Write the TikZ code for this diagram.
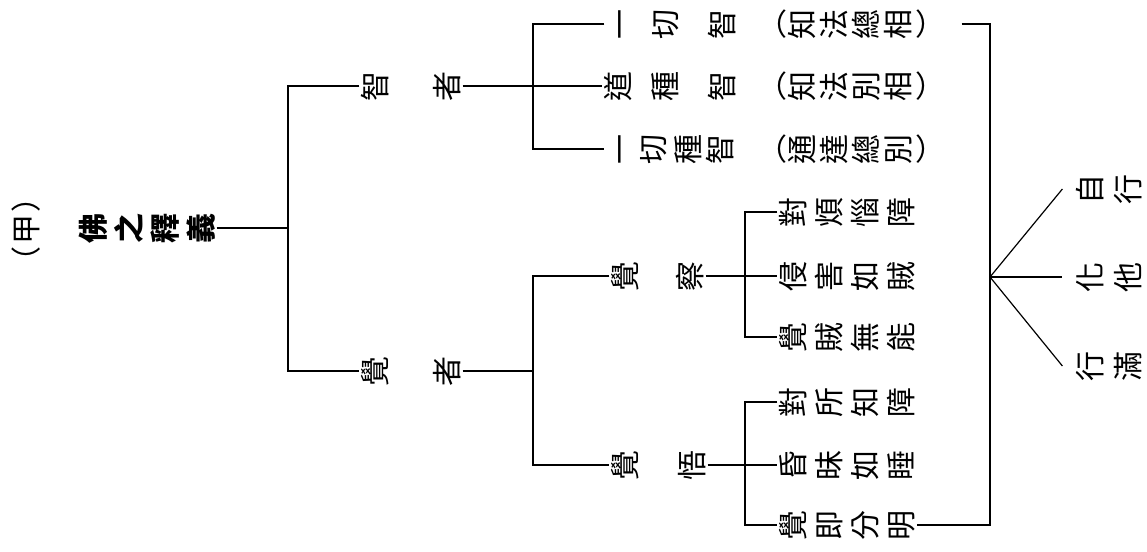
\documentclass[tikz,border=0pt]{standalone}
\usepackage{fontspec}
\setmainfont{Noto Sans CJK TC}
\usepackage{graphicx}
\usetikzlibrary{positioning}

\newcommand\cjksize{\fontsize{15pt}{15pt}\selectfont}
\newcommand\rc[1]{\rotatebox[origin=c]{90}{\makebox[1em]{\rule[-.12em]{0pt}{1em}#1}}}
\newcommand\uc[1]{\makebox[1em]{\rule[-.12em]{0pt}{1em}#1}}

\begin{document}
\begin{tikzpicture}[x=0.5pt,y=-0.5pt,line width=0.6pt,
  ch/.style={inner sep=0pt,font=\cjksize},
  chb/.style={ch,font=\cjksize\bfseries}]
\useasboundingbox (0,0) rectangle (1147,552);

\node [ch] (p1) at (26,197) {\rc{）}};
\node [ch] (p2) at (26,229) {\rc{甲}};
\node [ch] (p3) at (26,261) {\rc{（}};

\foreach \i / \w in {1/佛,2/之,3/釋,4/義}
  \node [chb] (fo\i) at ({57+36*\i},228) {\rc{\w}};

\node [ch] (z1) at (375,86) {\rc{智}};
\node [ch] (z2) at (447,86) {\rc{者}};
\node [ch] (j1) at (375,371) {\rc{覺}};
\node [ch] (j2) at (447,371) {\rc{者}};

\foreach \i / \x / \w in {1/620/一,2/665/切,3/722/智}
  \node [ch] (a\i) at (\x,24) {\rc{\w}};
\foreach \i / \x / \w in {1/618/道,2/665/種,3/722/智}
  \node [ch] (b\i) at (\x,86) {\rc{\w}};
\foreach \i / \x / \w in {1/620/一,2/653/切,3/688/種,4/720/智}
  \node [ch] (c\i) at (\x,149) {\rc{\w}};

\foreach \r / \y / \ka / \kb / \kc / \kd in {1/24/知/法/總/相,2/86/知/法/別/相,3/149/通/達/總/別} {
  \node [ch] (n\r0) at (772,\y) {\uc{（}};
  \node [ch] (n\r1) at (802,\y) {\rc{\ka}};
  \node [ch] (n\r2) at (834,\y) {\rc{\kb}};
  \node [ch] (n\r3) at (866,\y) {\rc{\kc}};
  \node [ch] (n\r4) at (898,\y) {\rc{\kd}};
  \node [ch] (n\r5) at (930,\y) {\uc{）}};
}

\node [ch] (ca1) at (625,276) {\rc{覺}};
\node [ch] (ca2) at (690,276) {\rc{察}};
\node [ch] (wu1) at (625,465) {\rc{覺}};
\node [ch] (wu2) at (692,465) {\rc{悟}};

\foreach \r / \y / \w in {d/212/{對,煩,惱,障},e/276/{侵,害,如,賊},f/337/{覺,賊,無,能},
                          g/402/{對,所,知,障},h/465/{昏,昧,如,睡},k/525/{覺,即,分,明}}
  \foreach [count=\i] \z in \w
    \node [ch] (\r\i) at ({757+36*\i},\y) {\rc{\z}};

\foreach \r / \y / \ka / \kb in {s/189/自/行,t/277/化/他,u/366/行/滿} {
  \node [ch] (\r1) at (1090,\y) {\rc{\ka}};
  \node [ch] (\r2) at (1128,\y) {\rc{\kb}};
}

\coordinate (m0) at (288,228);
\coordinate (m1) at (533,86);
\coordinate (m2) at (533,371);
\coordinate (m3) at (745,276);
\coordinate (m4) at (745,465);
\coordinate (fan) at (990,277);

\draw (fo4.east) -- (m0);
\draw (z1.west) -| (m0) |- (j1.west);

\draw (z2.east) -- (m1);
\draw (a1.west) -| (m1) |- (c1.west);
\draw (m1) -- (b1.west);

\draw (j2.east) -- (m2);
\draw (ca1.west) -| (m2) |- (wu1.west);

\draw (ca2.east) -- (m3);
\draw (d1.west) -| (m3) |- (f1.west);
\draw (m3) -- (e1.west);

\draw (wu2.east) -- (m4);
\draw (g1.west) -| (m4) |- (k1.west);
\draw (m4) -- (h1.west);

\draw ([xshift=8pt]n15.east) -| (fan) |- (k4.east);
\draw (fan) -- ([xshift=-6pt]s1.west);
\draw (fan) -- ([xshift=-6pt]t1.west);
\draw (fan) -- ([xshift=-6pt]u1.west);

\end{tikzpicture}
\end{document}
